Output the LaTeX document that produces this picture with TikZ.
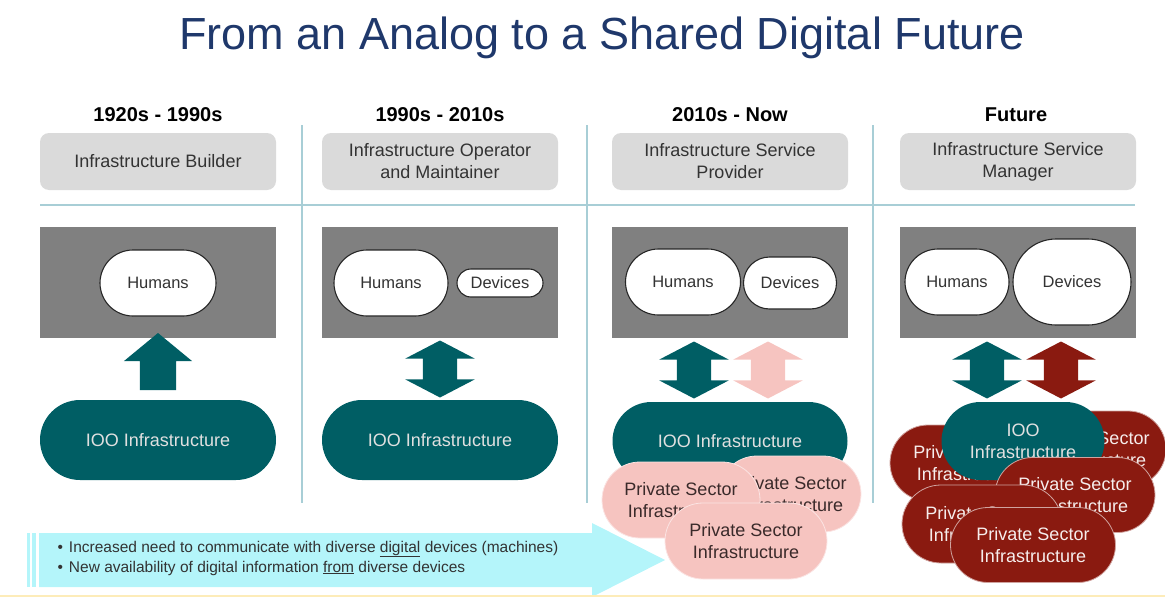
\documentclass[tikz,border=0pt]{standalone}
\usepackage{fontspec}
\setmainfont{Liberation Sans}
\usepackage{tikz}
\usetikzlibrary{shapes.misc,shapes.arrows,calc}

\definecolor{titleblue}{RGB}{31,56,107}
\definecolor{iooteal}{RGB}{0,94,100}
\definecolor{pspink}{RGB}{246,196,192}
\definecolor{pstext}{RGB}{58,42,42}
\definecolor{psred}{RGB}{138,26,16}
\definecolor{rolegray}{RGB}{218,218,218}
\definecolor{areagray}{RGB}{128,128,128}
\definecolor{rulecol}{RGB}{168,206,214}
\definecolor{trendcyan}{RGB}{180,245,250}
\definecolor{baseyellow}{RGB}{253,236,185}

\begin{document}
\begin{tikzpicture}[x=1pt,y=-1pt,
    era/.style={font=\fontsize{20}{24}\selectfont\bfseries},
    role/.style={fill=rolegray, rounded corners=9pt, minimum width=236pt, minimum height=57pt,
      align=center, text=black!80, font=\fontsize{18}{22}\selectfont},
    users/.style={fill=areagray, minimum width=236pt, minimum height=111pt},
    pill/.style={rounded rectangle, draw=black!85, line width=1.1pt, fill=white, inner sep=0pt,
      text=black!80, font=\fontsize{16.5}{20}\selectfont},
    ioo/.style={rounded rectangle, fill=iooteal, text=white!88!black, inner sep=0pt,
      minimum width=236pt, minimum height=80pt, align=center, font=\fontsize{18}{22}\selectfont},
    private/.style={rounded rectangle, draw=white!55!pspink, line width=0.8pt, fill=pspink,
      text=pstext, inner sep=0pt, minimum width=158pt, minimum height=76pt,
      align=center, font=\fontsize{18}{22}\selectfont},
    privred/.style={private, fill=psred, draw=white!60!psred, text=white!92!psred},
    upone/.style={single arrow, rotate=90, fill=iooteal, inner xsep=0pt, inner ysep=18pt,
      minimum height=57pt, single arrow head extend=16pt, single arrow tip angle=101},
    updown/.style={double arrow, rotate=90, inner xsep=0pt, inner ysep=17pt,
      minimum height=57pt, double arrow head extend=17.5pt, double arrow tip angle=125},
    rule/.style={draw=rulecol, line width=1.3pt}]

  \useasboundingbox (0,0) rectangle (1165,597);

  \node[text=titleblue, font=\fontsize{45}{50}\selectfont] (title) at (602,38)
    {From an Analog to a Shared Digital Future};

  \node[era] (era1) at (158,115) {1920s - 1990s};
  \node[era] (era2) at (440,115) {1990s - 2010s};
  \node[era] (era3) at (730,115) {2010s - Now};
  \node[era] (era4) at (1016,115) {Future};

  \node[role] (role1) at (158,161.5) {Infrastructure Builder};
  \node[role] (role2) at (440,161.5) {Infrastructure Operator\\and Maintainer};
  \node[role] (role3) at (730,161.5) {Infrastructure Service\\Provider};
  \node[role] (role4) at (1018,161.5) {Infrastructure Service\\Manager};

  \draw[rule] (40,205) -- (1135,205);
  \foreach \sx in {302,587,873}
    \draw[rule] (\sx,125) -- (\sx,503);

  \node[users] (area1) at (158,282.5) {};
  \node[users] (area2) at (440,282.5) {};
  \node[users] (area3) at (730,282.5) {};
  \node[users] (area4) at (1018,282.5) {};

  \node[pill, minimum width=116pt, minimum height=66pt] (hum1) at (158,283) {Humans};
  \node[pill, minimum width=114pt, minimum height=66pt] (hum2) at (391,283) {Humans};
  \node[pill, minimum width=86pt, minimum height=28pt] (dev2) at (500,283) {Devices};
  \node[pill, minimum width=115pt, minimum height=66pt] (hum3) at (683,282) {Humans};
  \node[pill, minimum width=93pt, minimum height=52pt] (dev3) at (790,283) {Devices};
  \node[pill, minimum width=104pt, minimum height=66pt] (hum4) at (957,282) {Humans};
  \node[pill, minimum width=118pt, minimum height=86pt] (dev4) at (1072,282) {Devices};

  \node[ioo] (ioo1) at (158,440) {IOO Infrastructure};
  \node[ioo] (ioo2) at (440,440) {IOO Infrastructure};
  \node[ioo, minimum width=235pt, minimum height=78pt] (ioo3) at (730,441) {IOO Infrastructure};

  \node[private, minimum width=142pt] (ps3b) at (790,494) {Private Sector\\Infrastructure};
  \node[private] (ps3a) at (681,500) {Private Sector\\Infrastructure};
  \node[private, minimum width=162pt] (ps3c) at (746,541) {Private Sector\\Infrastructure};

  \node[privred, minimum width=160pt] (ps4a) at (970,463) {Private Sector\\Infrastructure};
  \node[privred, minimum width=146pt] (ps4b) at (1093,449) {Private Sector\\Infrastructure};
  \node[ioo, minimum width=163pt, minimum height=78pt] (ioo4) at (1023,441) {IOO\\Infrastructure};
  \node[privred, minimum width=160pt, minimum height=75pt] (ps4c) at (1075,495) {Private Sector\\Infrastructure};
  \node[privred, minimum width=160pt, minimum height=78pt] (ps4d) at (982,524) {Private Sector\\Infrastructure};
  \node[privred, minimum width=165pt, minimum height=75pt] (ps4e) at (1033,545) {Private Sector\\Infrastructure};

  \node[upone] (link1) at ($(area1.south)!0.5!(ioo1.north)$) {};
  \node[updown, fill=iooteal] (link2) at ($(area2.south)!0.5!(ioo2.north)$) {};
  \node[updown, fill=iooteal] (link3) at ($(area3.south)!0.5!(ioo3.north)+(-36,0)$) {};
  \node[updown, fill=pspink] (link3p) at ($(area3.south)!0.5!(ioo3.north)+(38,0)$) {};
  \node[updown, fill=iooteal] (link4) at ($(area4.south)!0.5!(area4.south|-ioo4.north)+(-31,0)$) {};
  \node[updown, fill=psred] (link4p) at ($(link4)+(74,0)$) {};

  \fill[trendcyan] (39,533) -- (592,533) -- (592,523) -- (665,560) -- (592,597)
    -- (592,587) -- (39,587) -- cycle;
  \fill[trendcyan] (27,533) rectangle (29.5,587);
  \fill[trendcyan] (32,533) rectangle (36,587);
  \node[anchor=west, align=left, text=black!80, font=\fontsize{15.5}{20}\selectfont] (trend) at (54,558)
    {\textbullet\hspace{6pt}Increased need to communicate with diverse \underline{digital} devices (machines)\\
     \textbullet\hspace{6pt}New availability of digital information \underline{from} diverse devices};

  \draw[baseyellow, line width=1.5pt] (0,596) -- (1165,596);
\end{tikzpicture}
\end{document}
